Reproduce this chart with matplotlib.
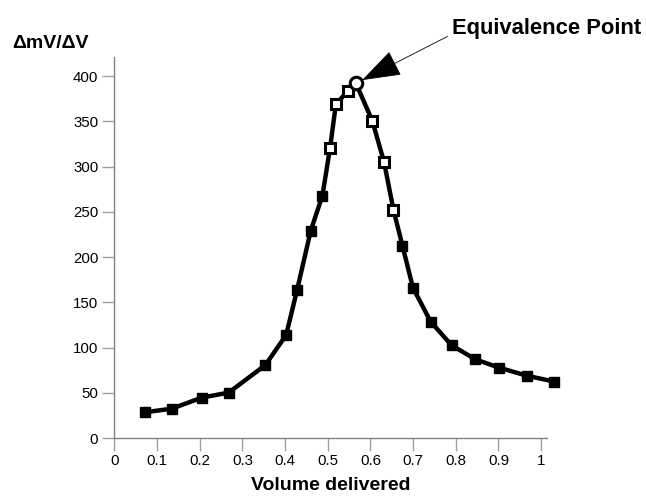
import matplotlib.pyplot as plt

plt.rcParams['font.family'] = ['Liberation Sans', 'DejaVu Sans']

# first-derivative titration curve
volume = [0.0725, 0.135, 0.2045, 0.268, 0.354, 0.4025, 0.428, 0.460, 0.4875,
          0.5055, 0.519, 0.5475, 0.566, 0.6045, 0.632, 0.654,
          0.675, 0.6995, 0.741, 0.790, 0.8455, 0.901, 0.966, 1.031]
dmv_dv = [28.7, 32.7, 44.8, 50.4, 80.9, 114, 163.4, 229, 268,
          321, 368.8, 383.8, 392, 350.4, 304.8, 252,
          212.7, 166.3, 128.8, 102.7, 87.2, 78, 69.1, 62.5]
# marker style per point: 's' filled, 'o' open square, 'c' circle (equivalence)
kind = ['s'] * 9 + ['o'] * 3 + ['c'] + ['o'] * 3 + ['s'] * 8

x_ticks = [0, 0.1, 0.2, 0.3, 0.4, 0.5, 0.6, 0.7, 0.8, 0.9, 1]
x_tick_labels = ['0', '0.1', '0.2', '0.3', '0.4', '0.5', '0.6', '0.7', '0.8', '0.9', '1']
y_ticks = [0, 50, 100, 150, 200, 250, 300, 350, 400]

fig = plt.figure(figsize=(6.46, 4.98), dpi=100)
ax = fig.add_axes([0.177, 0.12, 0.669, 0.7655])

ax.plot(volume, dmv_dv, color='black', lw=3.2, zorder=2, clip_on=False)

filled = [(v, d) for v, d, k in zip(volume, dmv_dv, kind) if k == 's']
hollow = [(v, d) for v, d, k in zip(volume, dmv_dv, kind) if k == 'o']
peak = [(v, d) for v, d, k in zip(volume, dmv_dv, kind) if k == 'c']

ax.plot(*zip(*filled), ls='none', marker='s', ms=7, color='black', zorder=3, clip_on=False)
ax.plot(*zip(*hollow), ls='none', marker='s', ms=7.5, mfc='white', mec='black',
        mew=2.2, zorder=3, clip_on=False)
ax.plot(*zip(*peak), ls='none', marker='o', ms=9, mfc='white', mec='black',
        mew=2.2, zorder=4, clip_on=False)

ax.annotate('Equivalence Point', xy=peak[0], xytext=(0.79, 453),
            fontsize=15.8, fontweight='bold', ha='left', va='center',
            annotation_clip=False,
            arrowprops=dict(arrowstyle='-|>,head_length=1.6,head_width=0.55',
                            color='black', lw=0.6, shrinkA=1, shrinkB=5,
                            relpos=(0, 0.2)))

ax.set_xlim(0, 1.0125)
ax.set_ylim(0, 421)
ax.set_xticks(x_ticks)
ax.set_xticklabels(x_tick_labels)
ax.set_yticks(y_ticks)

for side in ['top', 'right']:
    ax.spines[side].set_visible(False)
for side in ['left', 'bottom']:
    ax.spines[side].set_color('#808080')
    ax.spines[side].set_linewidth(1)
ax.tick_params(length=9, width=1, color='#a0a0a0', labelsize=10.8, pad=2.5)

ax.set_xlabel('Volume delivered', fontsize=14, fontweight='bold', labelpad=6)
fig.text(0.019, 0.913, 'ΔmV/ΔV', fontsize=14, fontweight='bold', ha='left', va='center')

fig.savefig('out.png', dpi=100)
